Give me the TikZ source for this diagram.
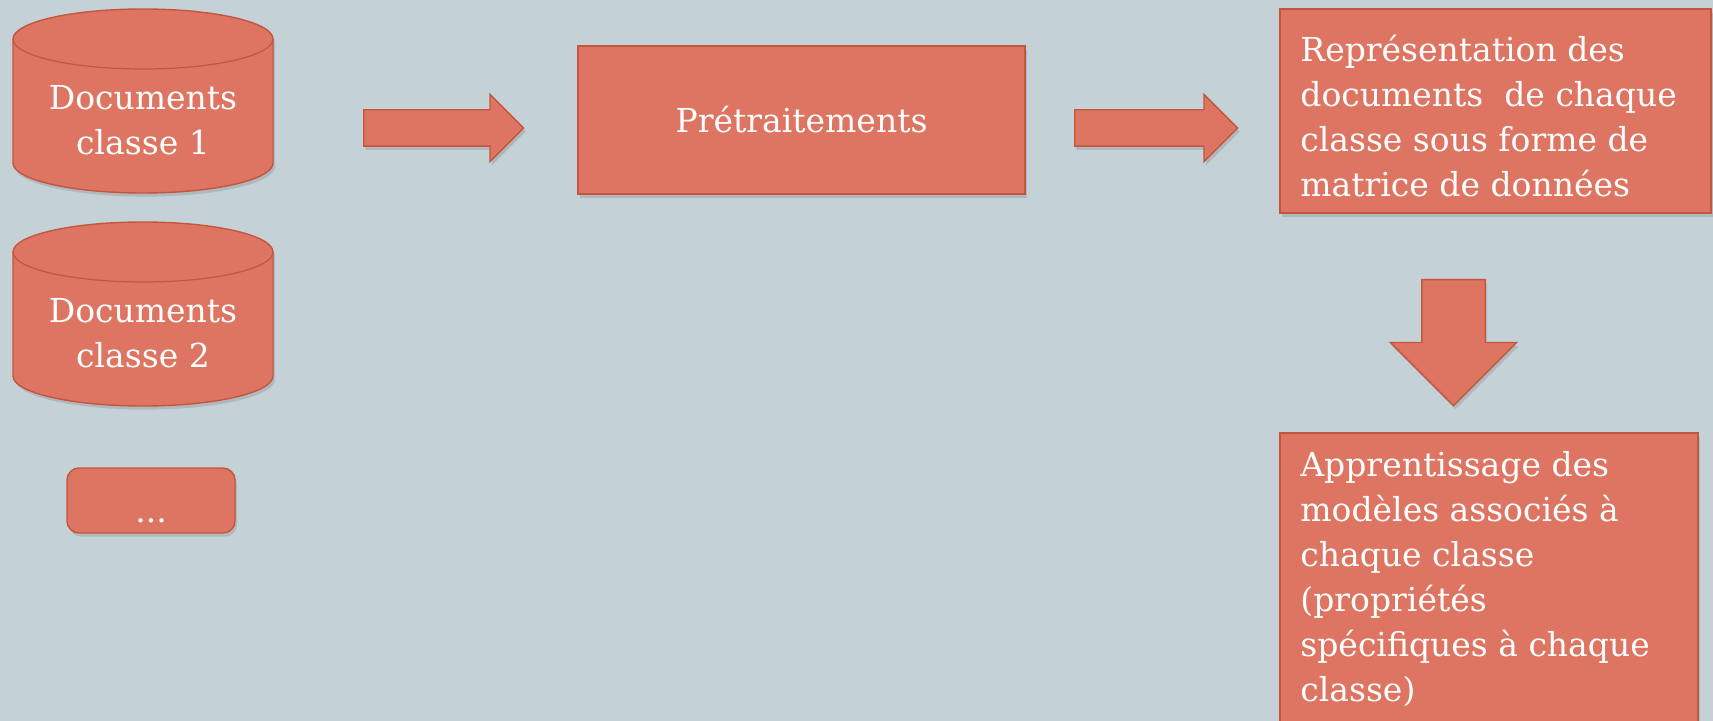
\documentclass[tikz,border=0pt]{standalone}
\usepackage{fontspec}
\setmainfont{DejaVu Serif}
\usetikzlibrary{shapes.arrows,shadows}
\definecolor{fillc}{RGB}{221,117,98}
\definecolor{edgec}{RGB}{196,86,62}
\definecolor{bgc}{RGB}{196,209,215}
\tikzset{
  shd/.style={drop shadow={opacity=0.3,shadow xshift=1pt,shadow yshift=-1.8pt}},
  blockshape/.style={fill=fillc,draw=edgec,line width=0.7pt,shd},
  boxnode/.style={blockshape,rectangle,inner sep=0pt},
  txt/.style={text=white,font=\fontsize{16.5}{22.5}\selectfont,inner sep=0pt},
  bigarrow/.style={blockshape,single arrow,inner sep=0pt,text depth=0pt,single arrow head extend=#1,anchor=tail},
}
\begin{document}
\begin{tikzpicture}[x=0.5pt,y=-0.5pt]
\fill[bgc] (0,0) rectangle (1713,721);
\useasboundingbox (0,0) rectangle (1713,721);
% cylinder 1
\path[blockshape] (13,39) -- (13,163) .. controls (13,179.6) and (71.2,193) .. (143,193) .. controls (214.8,193) and (273,179.6) .. (273,163) -- (273,39) .. controls (273,22.4) and (214.8,9) .. (143,9) .. controls (71.2,9) and (13,22.4) .. (13,39) -- cycle;
\draw[edgec,line width=0.6pt] (13,39) .. controls (13,55.6) and (71.2,69) .. (143,69) .. controls (214.8,69) and (273,55.6) .. (273,39);
\node[txt,align=center] (c1) at (143,120) {Documents\\classe 1};
% cylinder 2
\path[blockshape] (13,252) -- (13,376) .. controls (13,392.6) and (71.2,406) .. (143,406) .. controls (214.8,406) and (273,392.6) .. (273,376) -- (273,252) .. controls (273,235.4) and (214.8,222) .. (143,222) .. controls (71.2,222) and (13,235.4) .. (13,252) -- cycle;
\draw[edgec,line width=0.6pt] (13,252) .. controls (13,268.6) and (71.2,282) .. (143,282) .. controls (214.8,282) and (273,268.6) .. (273,252);
\node[txt,align=center] (c2) at (143,333) {Documents\\classe 2};
% dots box
\node[boxnode,rounded corners=6pt,minimum width=84pt,minimum height=32.5pt,txt,text height=21.5pt,text depth=0pt] (dots) at (151,500.5) {...};
% Pretraitements
\node[boxnode,minimum width=223.5pt,minimum height=74pt,txt] (pre) at (801.5,120) {Prétraitements};
% representation box
\node[boxnode,minimum width=215.5pt,minimum height=102pt] (rep) at (1495.5,111) {};
\node[txt,align=left,anchor=west] (reptxt) at (1300,116) {Représentation des\\documents\ \ de chaque\\classe sous forme de\\matrice de données};
% apprentissage box
\node[boxnode,minimum width=209pt,minimum height=160pt] (app) at (1489,593) {};
\node[txt,align=left,anchor=west] (apptxt) at (1300,579) {Apprentissage des\\modèles associés à\\chaque classe\\(propriétés\\spécifiques à chaque\\classe)};
% arrows
\node[bigarrow=7.75pt,text height=17.5pt,minimum height=80pt,minimum width=33pt] (a1) at (363,128) {};
\node[bigarrow=7.75pt,text height=17.5pt,minimum height=81.5pt,minimum width=33pt] (a2) at (1074,128) {};
\node[bigarrow=15.75pt,text height=31pt,minimum height=63pt,minimum width=62.5pt,rotate=-90] (a3) at (1453.5,279) {};
\end{tikzpicture}
\end{document}
